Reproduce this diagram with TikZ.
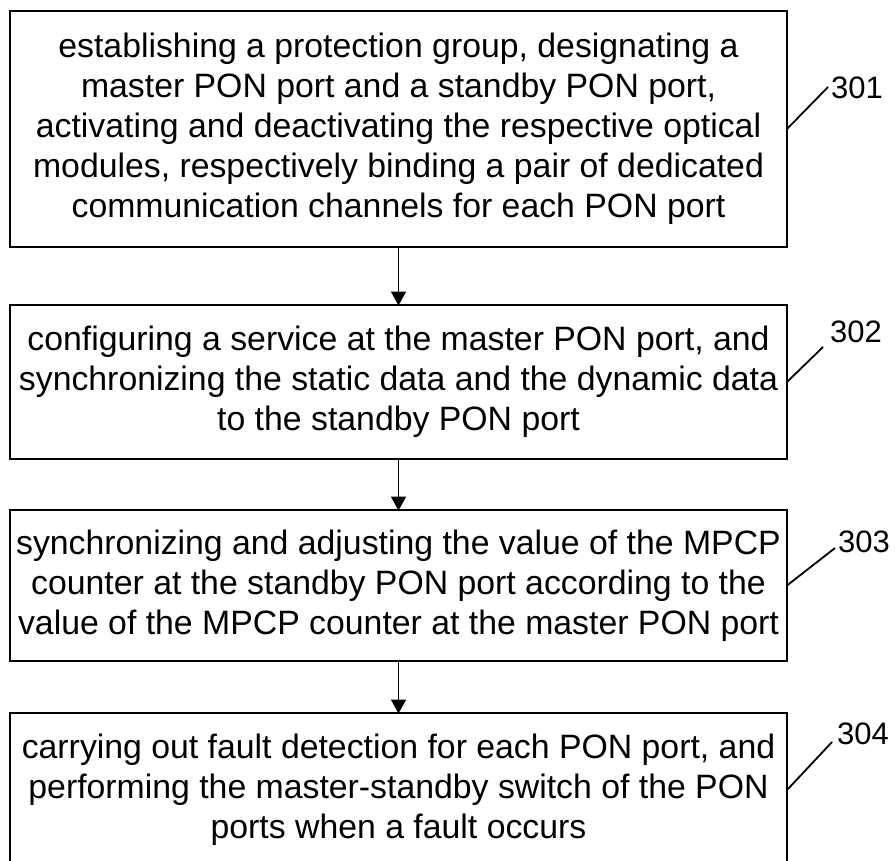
\documentclass[tikz,border=0pt]{standalone}
\usepackage{fontspec}
\setmainfont{Liberation Sans}
\usetikzlibrary{arrows.meta}
\begin{document}
\begin{tikzpicture}[x=1pt,y=-1pt,
  stepbox/.style={draw, line width=2.2pt, outer sep=0pt, inner sep=0pt, align=center,
    minimum width=777pt, font=\fontsize{33.8}{40}\selectfont},
  arr/.style={line width=1.8pt, -{Triangle[width=15pt,length=14pt]}, shorten >=-0.5pt},
  lead/.style={line width=1.8pt},
  lbl/.style={font=\fontsize{31}{36}\selectfont, inner sep=0pt}]
\useasboundingbox (0,0) rectangle (896,861);
\clip (0,0) rectangle (896,861);
\node[stepbox, minimum height=236pt] (b1) at (398.5,129) {establishing a protection group, designating a\\master PON port and a standby PON port,\\activating and deactivating the respective optical\\modules, respectively binding a pair of dedicated\\communication channels for each PON port};
\node[stepbox, minimum height=154pt] (b2) at (398.5,382) {configuring a service at the master PON port, and\\synchronizing the static data and the dynamic data\\to the standby PON port};
\node[stepbox, minimum height=151pt] (b3) at (398.5,585.5) {synchronizing and adjusting the value of the MPCP\\counter at the standby PON port according to the\\value of the MPCP counter at the master PON port};
\node[stepbox, minimum height=154pt] (b4) at (398.5,790) {carrying out fault detection for each PON port, and\\performing the master-standby switch of the PON\\ports when a fault occurs};
\draw[arr] (b1.south) -- (b2.north);
\draw[arr] (b2.south) -- (b3.north);
\draw[arr] (b3.south) -- (b4.north);
\node[lbl] (n301) at (857,88) {301};
\node[lbl] (n302) at (856,332) {302};
\node[lbl] (n303) at (864,542) {303};
\node[lbl] (n304) at (863,734) {304};
\coordinate (e301) at (828,87);
\coordinate (e302) at (823,347);
\coordinate (e303) at (835,548);
\coordinate (e304) at (832,742);
\draw[lead] (b1.east) -- (e301);
\draw[lead] (b2.east) -- (e302);
\draw[lead] (b3.east) -- (e303);
\draw[lead] (b4.east) -- (e304);
\end{tikzpicture}
\end{document}
